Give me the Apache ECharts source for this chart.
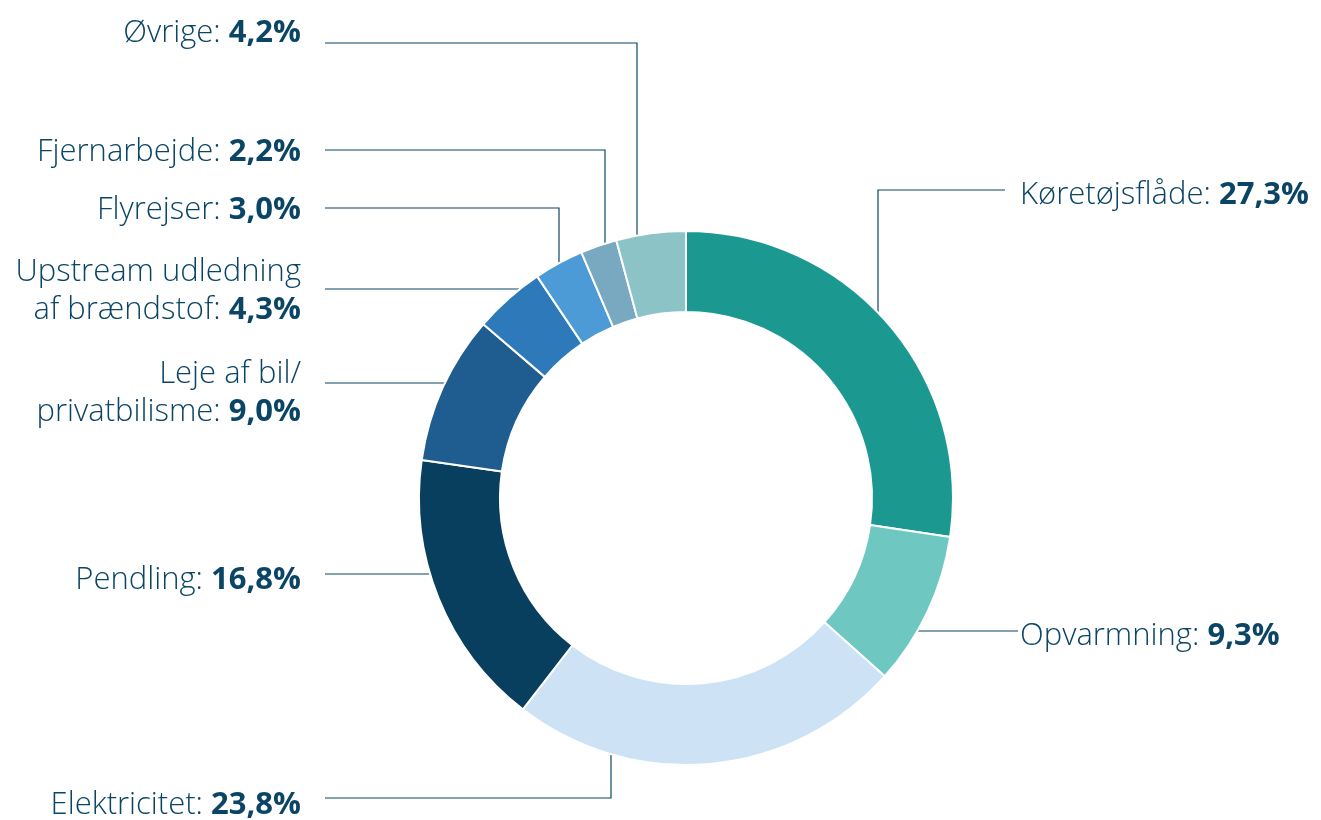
<!DOCTYPE html>
<html>
<head>
<meta charset="utf-8">
<style>
  html, body { margin: 0; padding: 0; background: #fff; }
  #chart { width: 1321px; height: 820px; }
</style>
<script src="https://cdn.jsdelivr.net/npm/echarts@6/dist/echarts.min.js"></script>
</head>
<body>
<div id="chart"></div>
<script>
const categories = ['Køretøjsflåde', 'Opvarmning', 'Elektricitet', 'Pendling', 'Leje af bil/\nprivatbilisme', 'Upstream udledning\naf brændstof', 'Flyrejser', 'Fjernarbejde', 'Øvrige']
const shares = [27.3, 9.3, 23.8, 16.8, 9.0, 4.3, 3.0, 2.2, 4.2]
const colors = ['#1b9990', '#6ec8c1', '#cde3f5', '#093f5e', '#1f5c8f', '#2e79b9', '#4c9bd7', '#79a9c1', '#8bc3c6']

// label placement: vx = vertical leg x, hy = horizontal leg y, ey = elbow y,
// ex = where the leader stops, lx/ly = label anchor
const spots = [
  { vx: 878, ey: 190, ex: 1005, lx: 1020, ly: 195, side: 'r' },
  { hy: 631, ex: 1018, lx: 1020, ly: 636, side: 'r' },
  { vx: 611, ey: 798, ex: 325, lx: 301, ly: 805, side: 'l' },
  { hy: 574, ex: 325, lx: 301, ly: 580, side: 'l' },
  { hy: 383, ex: 325, lx: 301, ly: 393, side: 'l' },
  { hy: 289, ex: 325, lx: 301, ly: 291, side: 'l' },
  { vx: 559, ey: 208, ex: 325, lx: 301, ly: 210, side: 'l' },
  { vx: 605, ey: 150, ex: 325, lx: 301, ly: 152, side: 'l' },
  { vx: 637, ey: 43, ex: 325, lx: 301, ly: 33, side: 'l' }
]

const cx = 686
const cy = 498
const rOuter = 267
const rInner = 186
const font = 'Open Sans'
const fsize = 31

const chart = echarts.init(document.getElementById('chart'))

function fmt(v) {
  return v.toFixed(1).replace('.', ',') + '%'
}

chart.setOption({
  animation: false,
  series: [{
    type: 'pie',
    center: [cx, cy],
    radius: [rInner, rOuter],
    startAngle: 90,
    clockwise: true,
    avoidLabelOverlap: false,
    color: colors,
    itemStyle: {
      borderColor: '#fff',
      borderWidth: 2
    },
    emphasis: { disabled: true },
    label: {
      show: true,
      color: '#0b4566',
      fontFamily: font,
      fontSize: fsize,
      lineHeight: 38,
      formatter: function (p) {
        const lines = p.name.split('\n')
        const last = lines.pop()
        const head = lines.map(function (l) { return '{n|' + l + '}' })
        head.push('{n|' + last + ': }{b|' + fmt(p.value) + '}')
        return head.join('\n')
      },
      rich: {
        n: { fontFamily: font, fontSize: fsize, fontWeight: 300, color: '#0b4566', lineHeight: 38 },
        b: { fontFamily: font, fontSize: fsize, fontWeight: 'bold', color: '#0b4566', lineHeight: 38 }
      }
    },
    labelLine: {
      show: true,
      lineStyle: { color: '#0b4566', width: 1.2 }
    },
    labelLayout: function (params) {
      const s = spots[params.dataIndex]
      let pts
      if (s.vx !== undefined) {
        const dx = s.vx - cx
        const dy = Math.sqrt(rOuter * rOuter - dx * dx)
        const ay = s.ey < cy ? cy - dy : cy + dy
        pts = [[s.vx, ay], [s.vx, s.ey], [s.ex, s.ey]]
      } else {
        const dy = s.hy - cy
        const dx = Math.sqrt(rOuter * rOuter - dy * dy)
        const ax = s.side === 'r' ? cx + dx : cx - dx
        pts = [[ax, s.hy], [(ax + s.ex) / 2, s.hy], [s.ex, s.hy]]
      }
      return {
        x: s.lx,
        y: s.ly,
        align: s.side === 'r' ? 'left' : 'right',
        verticalAlign: 'middle',
        labelLinePoints: pts
      }
    },
    data: categories.map(function (c, i) {
      return { name: c, value: shares[i] }
    })
  }]
})
</script>
</body>
</html>
